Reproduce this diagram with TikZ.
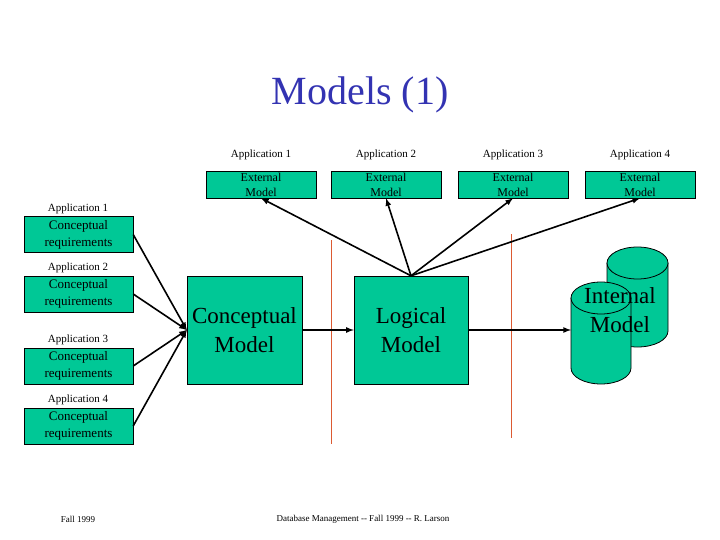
\documentclass[tikz,border=0pt]{standalone}
\usepackage{fontspec}
\setmainfont{Liberation Serif}
\definecolor{boxgreen}{RGB}{0,200,150}
\definecolor{titleblue}{RGB}{51,51,178}
\definecolor{divred}{RGB}{220,90,50}
\begin{document}
\begin{tikzpicture}[x=1pt,y=-1pt,
  box/.style={draw,fill=boxgreen,align=center,inner sep=0pt},
  small/.style={font=\fontsize{11}{12}\selectfont},
  conn/.style={line width=1.6pt,-latex},
  cyl/.style={draw,fill=boxgreen,line width=0.8pt}]
  \useasboundingbox (0,0) rectangle (720,540);
  \node[font=\fontsize{40}{44}\selectfont,text=titleblue] (title) at (360,95) {Models (1)};
  % external models
  \foreach \n/\x in {1/261,2/386,3/513,4/640}{
    \node[box,minimum width=110pt,minimum height=27pt,font=\fontsize{12}{15}\selectfont] (ext\n) at (\x,184.5) {External\\Model};
    \node[small] (extl\n) at (\x,155) {Application \n};
  }
  % conceptual requirements
  \foreach \n/\y in {1/234.5,2/294,3/366,4/426}{
    \node[box,minimum width=109pt,minimum height=36pt,font=\fontsize{13}{17}\selectfont] (req\n) at (78.5,\y) {Conceptual\\requirements};
    \node[small] (reql\n) at (78,\y-26) {Application \n};
  }
  \node[box,minimum width=115pt,minimum height=108pt,font=\fontsize{23}{29}\selectfont] (cm) at (244.5,330) {Conceptual\\Model};
  \node[box,minimum width=114pt,minimum height=108pt,font=\fontsize{23}{29}\selectfont] (lm) at (411,330) {Logical\\Model};
  % internal model (two drums)
  \draw[cyl] (607,263) arc[start angle=180,end angle=360,x radius=30.5,y radius=16]
    -- (668,331) arc[start angle=0,end angle=180,x radius=30.5,y radius=16] -- cycle;
  \draw[cyl] (607,263) arc[start angle=180,end angle=0,x radius=30.5,y radius=16];
  \draw[cyl] (571,298) arc[start angle=180,end angle=360,x radius=30,y radius=16]
    -- (631,368) arc[start angle=0,end angle=180,x radius=30,y radius=16] -- cycle;
  \draw[cyl] (571,298) arc[start angle=180,end angle=0,x radius=30,y radius=16];
  \coordinate (cylf) at (571,330);
  \node[font=\fontsize{23}{29}\selectfont,align=center] (imtext) at (620,310) {Internal\\Model};
  % dividers
  \coordinate (d1a) at (331,240); \coordinate (d1b) at (331,444);
  \coordinate (d2a) at (511,234); \coordinate (d2b) at (511,438);
  \draw[divred,line width=1pt] (d1a) -- (d1b);
  \draw[divred,line width=1pt] (d2a) -- (d2b);
  % connectors
  \foreach \n in {1,...,4}
    \draw[conn] (req\n.east) -- (cm.west);
  \draw[conn] (cm) -- (lm);
  \draw[conn] (lm.east) -- (cylf);
  \foreach \n in {1,...,4}
    \draw[conn] (lm.north) -- (ext\n.south);
  \node[font=\fontsize{9}{10}\selectfont] (foot1) at (78,519) {Fall 1999};
  \node[font=\fontsize{9}{10}\selectfont] (foot2) at (363,519) {Database Management -{}- Fall 1999 -{}- R. Larson};
\end{tikzpicture}
\end{document}
